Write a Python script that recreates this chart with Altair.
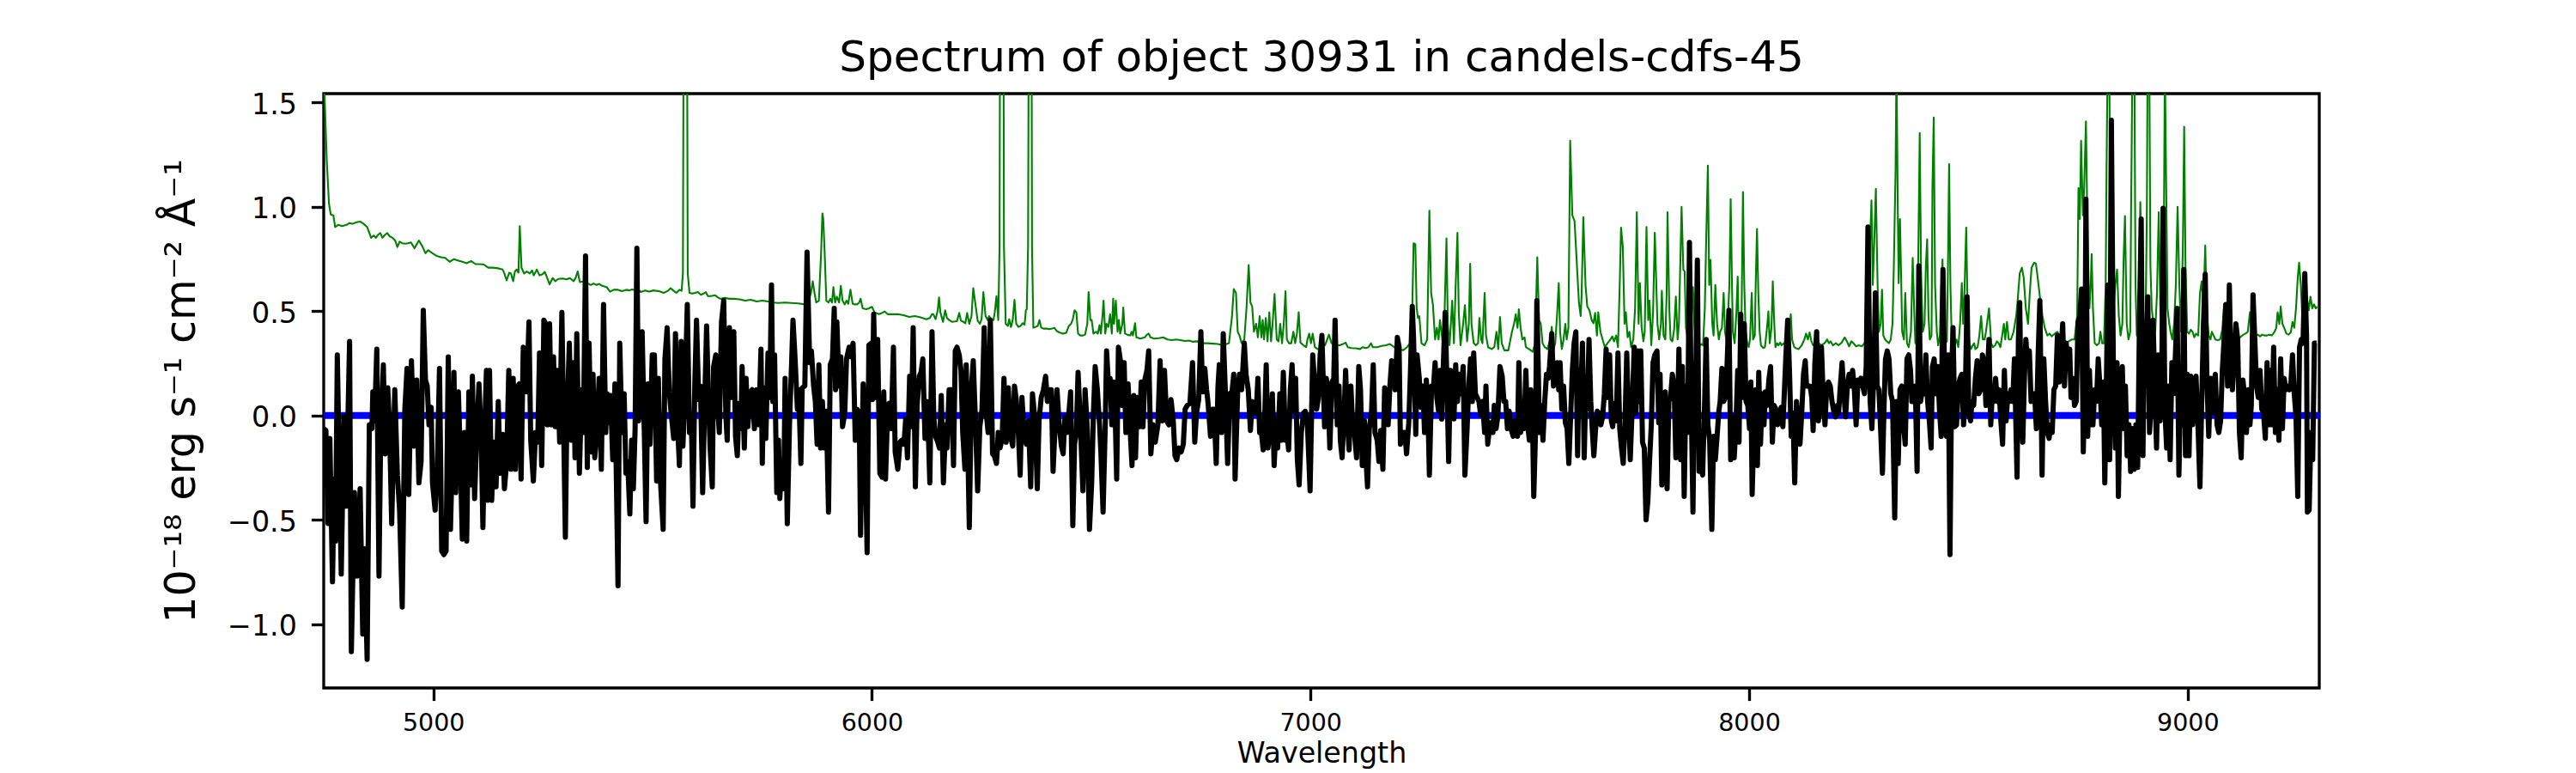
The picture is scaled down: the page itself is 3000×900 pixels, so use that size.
import altair as alt
import pandas as pd

bw1 = [4750, 4755, 4760, 4764, 4770, 4774, 4777, 4781, 4786, 4790,
       4796, 4801, 4809, 4813, 4820, 4826, 4833, 4839, 4843, 4849,
       4854, 4860, 4862, 4866, 4871, 4876, 4880, 4886, 4890, 4896,
       4900, 4905, 4912, 4918, 4923, 4929, 4935, 4940, 4944, 4950,
       4956, 4962, 4967, 4972, 4977, 4982, 4986, 4990, 4995, 4998,
       5004, 5009, 5014, 5019, 5024, 5029, 5034, 5039, 5044, 5047,
       5051, 5057, 5062, 5066, 5071, 5076, 5081, 5085, 5089, 5094,
       5099, 5104, 5109, 5113, 5117, 5121, 5124, 5128, 5133, 5138,
       5143, 5148, 5152, 5158, 5162, 5167, 5172, 5177, 5182, 5187,
       5192, 5196, 5200, 5205, 5209, 5213, 5218, 5222, 5228, 5233,
       5238, 5242, 5247, 5252, 5256, 5260, 5265, 5269, 5274, 5278,
       5283, 5288, 5293, 5301, 5304, 5310, 5315, 5319]
bf1 = [-0.063, -0.072, -0.518, -0.110, -0.797, -0.305, -0.602, 0.290, -0.305, -0.760,
       -0.007, -0.435, 0.355, -1.132, -0.370, -0.770, -0.351, -1.048, -0.639, -1.169,
       -0.045, -0.063, 0.113, -0.026, 0.318, -0.770, -0.063, 0.243, -0.184, 0.132,
       -0.045, -0.519, 0.123, -0.286, -0.454, -0.918, 0.030, 0.225, -0.379, 0.262,
       -0.147, 0.169, -0.323, -0.221, 0.504, 0.169, 0.141, -0.045, 0.039, -0.323,
       -0.454, -0.249, 0.225, -0.649, -0.667, -0.649, 0.281, -0.546, -0.128, 0.206,
       -0.370, 0.113, -0.230, -0.593, -0.082, -0.602, 0.113, -0.333, 0.188, -0.398,
       -0.082, 0.151, -0.100, -0.537, -0.063, 0.216, -0.407, 0.216, -0.407, -0.128,
       -0.342, 0.067, -0.277, -0.091, -0.351, -0.230, 0.216, -0.258, 0.178, -0.258,
       0.141, 0.151, -0.305, 0.327, 0.271, 0.113, 0.448, -0.119, -0.314, -0.082,
       -0.128, 0.299, -0.240, 0.457, 0.439, -0.045, 0.439, -0.045, 0.281, -0.054,
       0.216, -0.128, 0.494, -0.584, -0.072, 0.346, -0.119, 0.253]

bw2 = [5320, 5323, 5327, 5333, 5338, 5342, 5347, 5351, 5355, 5360,
       5364, 5368, 5373, 5378, 5383, 5388, 5393, 5396, 5401, 5404,
       5409, 5414, 5421, 5425, 5430, 5435, 5439, 5443, 5448, 5452,
       5456, 5460, 5464, 5468, 5472, 5476, 5481, 5485, 5489, 5494,
       5499, 5504, 5509, 5513, 5518, 5524, 5528, 5533, 5538, 5543,
       5548, 5552, 5557, 5561, 5565, 5569, 5574, 5579, 5584, 5588,
       5592, 5596, 5600, 5605, 5609, 5614, 5618, 5623, 5627, 5631,
       5636, 5639, 5644, 5648, 5652, 5657, 5662, 5667, 5670, 5675,
       5680, 5685, 5689, 5693, 5697, 5701, 5704, 5709, 5713, 5717,
       5723, 5727, 5732, 5737, 5742, 5747, 5750, 5753, 5758, 5763,
       5767, 5771, 5774, 5778, 5783, 5787, 5790, 5794, 5799, 5802,
       5807, 5812, 5817, 5820, 5825, 5830, 5833, 5838, 5841, 5847,
       5852, 5858, 5862, 5867, 5871, 5875, 5879, 5883, 5887]
bf2 = [0.243, -0.203, 0.392, -0.277, 0.123, -0.082, 0.764, -0.249, 0.346, -0.175,
       0.197, -0.203, -0.063, 0.178, -0.258, 0.532, -0.082, 0.104, -0.035, 0.095,
       -0.212, 0.151, -0.816, 0.346, -0.082, 0.104, -0.277, -0.221, -0.472, -0.119,
       -0.351, -0.063, 0.801, -0.026, 0.160, 0.401, -0.082, -0.509, 0.151, -0.138,
       0.290, 0.290, -0.314, 0.178, -0.323, -0.546, 0.271, 0.420, 0.113, -0.007,
       -0.110, 0.392, -0.054, -0.240, 0.355, -0.147, 0.123, 0.532, -0.082, 0.011,
       -0.435, 0.141, 0.457, 0.076, 0.141, -0.370, 0.002, 0.429, 0.104, -0.156,
       -0.342, 0.234, 0.290, 0.048, -0.082, 0.448, 0.550, -0.007, -0.119, 0.420,
       0.086, 0.401, -0.100, -0.193, 0.058, -0.063, 0.234, -0.156, 0.178, -0.054,
       0.113, 0.123, -0.063, 0.123, -0.045, 0.318, -0.230, 0.132, -0.110, 0.299,
       0.086, 0.625, 0.067, 0.290, -0.370, -0.119, -0.398, -0.230, -0.351, 0.178,
       -0.519, -0.045, 0.262, 0.457, 0.262, 0.030, 0.123, -0.230, 0.132, 0.141,
       0.783, 0.253, 0.309, 0.141, 0.067, -0.138, 0.243, -0.156, 0.067]

bw3 = [5889, 5892, 5896, 5901, 5905, 5910, 5914, 5917, 5920, 5925,
       5929, 5933, 5938, 5942, 5948, 5952, 5957, 5962, 5966, 5971,
       5974, 5980, 5984, 5989, 5993, 5998, 6001, 6004, 6008, 6013,
       6018, 6023, 6027, 6031, 6036, 6039, 6044, 6049, 6053, 6059,
       6064, 6068, 6073, 6077, 6081, 6086, 6090, 6094, 6099, 6103,
       6108, 6112, 6116, 6121, 6125, 6128, 6132, 6137, 6141, 6145,
       6150, 6154, 6158, 6163, 6168, 6171, 6176, 6181, 6186, 6190,
       6194, 6199, 6203, 6207, 6212, 6215, 6222, 6227, 6231, 6236,
       6241, 6246, 6251, 6256, 6261, 6265, 6270, 6275, 6279, 6284,
       6288, 6292, 6297, 6301, 6306, 6311, 6316, 6321, 6325, 6329,
       6334, 6338, 6342, 6347, 6352, 6357, 6362, 6366, 6372, 6377,
       6381, 6386, 6391, 6396, 6400, 6404, 6409, 6413, 6417, 6422,
       6427, 6432, 6436, 6440, 6445, 6449, 6453, 6458]
bf3 = [-0.026, -0.156, 0.020, -0.463, 0.243, 0.271, 0.513, 0.123, 0.448, 0.141,
       0.281, -0.054, 0.011, 0.271, 0.327, 0.281, 0.346, -0.119, 0.030, 0.011,
       -0.574, 0.151, -0.082, -0.658, 0.336, 0.346, 0.076, 0.485, 0.086, 0.364,
       -0.277, -0.296, 0.113, -0.305, 0.039, 0.058, -0.063, 0.327, -0.175, -0.258,
       -0.128, -0.119, -0.138, -0.017, -0.203, 0.188, -0.054, 0.420, -0.342, 0.048,
       0.188, 0.206, 0.271, -0.110, 0.067, -0.045, -0.323, 0.401, -0.007, -0.100,
       -0.128, -0.156, 0.095, -0.323, -0.045, -0.156, 0.123, 0.123, -0.240, 0.309,
       0.327, 0.290, 0.216, -0.082, -0.258, 0.243, -0.537, 0.141, 0.262, -0.026,
       -0.361, -0.054, 0.030, 0.420, 0.002, -0.082, 0.457, -0.184, -0.193, -0.230,
       -0.082, -0.156, -0.110, 0.178, -0.128, 0.132, -0.100, -0.147, 0.141, 0.076,
       -0.091, -0.286, 0.086, -0.082, -0.138, -0.026, -0.342, 0.104, -0.026, -0.351,
       -0.026, 0.086, 0.123, 0.188, 0.067, 0.123, 0.123, -0.268, -0.082, 0.123,
       -0.045, -0.147, -0.184, -0.007, -0.082, 0.011, 0.113, -0.528]

bw4 = [6462, 6466, 6470, 6475, 6481, 6486, 6491, 6496, 6501,
       6505, 6509, 6514, 6519, 6522, 6527, 6532, 6535, 6539, 6543,
       6547, 6551, 6555, 6558, 6562, 6566, 6571, 6575, 6579, 6584,
       6589, 6593, 6597, 6601, 6605, 6610, 6614, 6618, 6622, 6627,
       6631, 6636, 6641, 6646, 6652, 6657, 6662, 6667, 6672, 6677,
       6682, 6687, 6691, 6695, 6700, 6705, 6710, 6714, 6719, 6725,
       6731, 6736, 6740, 6745, 6750, 6754, 6759, 6763, 6766, 6772,
       6776, 6780, 6785, 6789, 6792, 6797, 6801, 6806, 6811, 6816,
       6821, 6825, 6828, 6834, 6838, 6843, 6849, 6853, 6858, 6863,
       6867, 6871, 6876, 6880, 6884, 6888, 6892, 6896, 6899, 6903,
       6909, 6913, 6917, 6922, 6925, 6930, 6933, 6938, 6943, 6946,
       6950, 6954, 6958, 6962, 6966, 6970, 6974, 6979, 6984, 6988,
       6993, 6999, 7005, 7010, 7014, 7018, 7022, 7026]
bf4 = [-0.138, -0.082, 0.206, -0.026, -0.361, 0.123, -0.063, -0.546, -0.323,
       0.011, 0.234, 0.123, -0.045, -0.175, -0.463, -0.045, 0.309, 0.160, 0.178,
       -0.045, 0.160, -0.026, -0.305, 0.327, 0.271, 0.048, 0.253, -0.082, 0.151,
       -0.082, -0.240, 0.095, -0.203, 0.086, -0.054, 0.160, -0.054, 0.169, 0.216,
       0.309, -0.184, -0.045, -0.128, -0.045, 0.262, -0.026, 0.216, -0.026, -0.045,
       0.076, -0.026, -0.193, -0.212, -0.156, -0.175, -0.138, 0.030, 0.048, 0.058,
       0.253, -0.128, 0.011, 0.076, 0.401, 0.113, 0.225, 0.123, 0.067, -0.100,
       0.030, 0.030, -0.230, 0.141, 0.243, -0.082, 0.392, 0.104, -0.230, 0.104,
       0.113, 0.197, -0.305, 0.123, 0.197, 0.123, 0.346, 0.197, 0.123, -0.072,
       0.067, 0.011, 0.011, 0.178, -0.082, -0.082, -0.165, 0.030, 0.243, -0.156,
       -0.045, 0.104, -0.240, -0.026, -0.156, 0.104, -0.119, 0.206, -0.119, -0.072,
       -0.165, 0.123, 0.243, 0.020, 0.178, -0.212, -0.333, -0.082, 0.011, 0.020,
       -0.045, -0.361, 0.290, 0.141, 0.030, 0.086, 0.290, 0.383]

bw5 = [7032, 7036, 7040, 7044, 7049, 7053, 7056, 7061, 7065,
       7068, 7072, 7077, 7080, 7084, 7088, 7092, 7096, 7100, 7105,
       7110, 7114, 7118, 7123, 7126, 7130, 7134, 7139, 7143, 7147,
       7152, 7156, 7160, 7165, 7169, 7173, 7177, 7181, 7185, 7189,
       7193, 7198, 7202, 7205, 7211, 7215, 7219, 7224, 7228, 7232,
       7235, 7240, 7243, 7248, 7252, 7256, 7260, 7264, 7268, 7271,
       7276, 7280, 7284, 7288, 7292, 7295, 7299, 7303, 7307, 7311,
       7315, 7319, 7323, 7327, 7331, 7335, 7339, 7343, 7348, 7352,
       7357, 7361, 7365, 7369, 7372, 7376, 7380, 7384, 7388, 7392,
       7397, 7400, 7404, 7408, 7412, 7416, 7419, 7423, 7427, 7432,
       7437, 7441, 7445, 7449, 7453, 7457, 7462, 7465, 7468, 7472,
       7475, 7479, 7483, 7487, 7491, 7495, 7499, 7502, 7506, 7509,
       7513, 7516, 7519, 7522, 7526, 7530, 7534, 7538, 7542, 7545,
       7550, 7554, 7558, 7562, 7566, 7569, 7573, 7577, 7581, 7585,
       7589, 7593, 7597, 7601, 7605, 7609, 7612, 7616, 7620, 7624,
       7627, 7631, 7635, 7639, 7642, 7646, 7650, 7654, 7658, 7662,
       7666, 7670, 7674, 7678, 7682, 7686, 7689, 7693, 7697, 7701,
       7705, 7709, 7713, 7717, 7721, 7725, 7729, 7734, 7738, 7742,
       7746, 7749, 7753, 7757, 7761, 7765, 7769, 7773, 7777, 7781,
       7785]
bf5 = [-0.054, 0.178, 0.104, -0.156, 0.160, 0.178, 0.457, -0.045, 0.141,
       -0.119, -0.203, 0.030, 0.216, -0.026, -0.165, 0.141, -0.045, -0.082, -0.203,
       0.234, 0.123, -0.240, -0.026, -0.193, -0.342, -0.063, 0.011, 0.243, -0.082,
       -0.119, -0.221, -0.072, -0.258, 0.132, 0.067, -0.045, 0.141, 0.262, 0.253,
       0.123, 0.374, 0.327, -0.138, -0.082, -0.082, -0.184, -0.035, 0.216, 0.522,
       0.364, -0.091, 0.290, 0.178, 0.039, 0.141, -0.082, 0.169, 0.011, -0.286,
       0.141, 0.123, 0.253, 0.086, 0.020, 0.216, -0.017, 0.253, 0.494, 0.160,
       -0.221, 0.216, 0.067, -0.017, 0.243, 0.067, 0.197, 0.104, 0.234, -0.286,
       -0.063, 0.151, 0.271, 0.067, 0.299, 0.104, 0.086, 0.067, 0.002, 0.067,
       -0.082, 0.141, -0.138, -0.063, -0.035, -0.082, 0.048, -0.063, -0.007, 0.234,
       0.188, 0.067, 0.067, -0.063, 0.020, -0.063, -0.100, -0.026, -0.045, -0.100,
       0.253, -0.082, -0.026, -0.063, 0.216, -0.045, -0.119, 0.123, -0.007, -0.388,
       -0.082, 0.550, 0.253, -0.082, 0.048, -0.119, 0.067, 0.197, 0.178, 0.234,
       0.392, 0.141, 0.188, 0.253, 0.123, 0.253, 0.030, 0.141, -0.035, -0.063,
       -0.230, -0.007, 0.216, 0.346, 0.401, -0.193, 0.216, 0.086, 0.346, -0.203,
       0.067, 0.030, 0.364, 0.067, -0.054, -0.193, -0.063, 0.020, 0.011, -0.045,
       -0.007, 0.104, 0.318, 0.086, 0.290, -0.026, -0.054, 0.058, -0.026, 0.299,
       -0.063, -0.156, -0.230, -0.045, 0.299, 0.011, -0.212, 0.067, 0.327, 0.011,
       0.309, 0.067, 0.309, -0.128, -0.156, -0.500, -0.416, -0.221, -0.045, 0.253,
       0.290]

bw6 = [7790, 7794, 7797, 7801, 7805, 7809, 7813, 7817, 7821,
       7825, 7829, 7833, 7837, 7840, 7844, 7848, 7852, 7856, 7860,
       7864, 7868, 7872, 7876, 7878, 7882, 7886, 7890, 7894, 7898,
       7902, 7906, 7910, 7915, 7919, 7923, 7927, 7931, 7934, 7938,
       7942, 7946, 7950, 7954, 7958, 7962, 7966, 7970, 7974, 7977,
       7981, 7985, 7989, 7993, 7997, 8001, 8004, 8007, 8011, 8015,
       8019, 8022, 8026, 8030, 8034, 8037, 8041, 8045, 8049, 8053,
       8057, 8061, 8065, 8069, 8073, 8077, 8081, 8084, 8088, 8092,
       8096, 8100, 8104, 8108, 8112, 8116, 8120, 8124, 8128, 8131,
       8135, 8139, 8143, 8146, 8150, 8154, 8158, 8161, 8165, 8169,
       8173, 8177, 8181, 8185, 8189, 8193, 8197, 8201, 8204, 8208,
       8212, 8216, 8220, 8224, 8228, 8232, 8236, 8240, 8244, 8248,
       8251, 8255, 8259, 8263, 8267, 8271, 8276, 8280, 8284, 8288,
       8292, 8296, 8300, 8304, 8308, 8311, 8315, 8319, 8323, 8327,
       8332, 8336, 8340, 8344, 8348, 8352, 8356, 8360, 8364, 8368,
       8371, 8375, 8379, 8383, 8387, 8391, 8395, 8399, 8403, 8407,
       8411, 8415, 8418, 8422, 8426, 8430, 8434, 8438, 8442, 8446,
       8450, 8454, 8458, 8462, 8465, 8469, 8473, 8477, 8481, 8485,
       8489, 8493, 8497, 8501, 8505, 8508, 8512, 8516, 8520, 8524,
       8528, 8532, 8536, 8540]
bf6 = [0.309, -0.035, 0.197, -0.333, 0.067, 0.113, -0.351, 0.067, 0.086,
       0.197, 0.141, -0.203, 0.011, 0.318, -0.212, 0.234, -0.388, 0.141, -0.082,
       0.829, 0.067, -0.463, 0.253, 0.104, 0.745, -0.268, -0.249, -0.286, 0.011,
       0.364, -0.045, -0.119, -0.546, -0.100, -0.212, -0.100, 0.020, 0.067, 0.225,
       0.067, 0.086, 0.253, 0.504, -0.212, -0.007, -0.203, -0.045, 0.216, -0.128,
       0.485, 0.086, 0.439, 0.067, 0.048, -0.063, 0.160, -0.379, -0.045, 0.123,
       -0.240, 0.206, -0.138, 0.104, -0.045, 0.113, 0.048, 0.169, 0.234, -0.128,
       0.048, 0.030, -0.045, -0.026, 0.039, -0.054, 0.141, 0.290, 0.457, 0.216,
       -0.100, 0.011, -0.323, 0.067, -0.045, -0.138, 0.011, 0.197, 0.262, 0.141,
       0.141, 0.141, 0.086, -0.072, 0.253, 0.401, -0.026, 0.048, 0.327, 0.086,
       -0.045, 0.141, 0.160, 0.141, 0.067, 0.020, -0.007, 0.048, 0.011, 0.141,
       0.253, 0.104, -0.007, 0.141, 0.197, 0.141, 0.216, 0.123, -0.045, 0.169,
       0.141, 0.178, 0.141, 0.104, 0.234, 0.903, 0.067, -0.063, 0.178, 0.587,
       0.141, 0.123, -0.072, -0.277, 0.067, 0.271, 0.309, 0.271, 0.104, 0.067,
       -0.491, 0.067, -0.230, 0.123, 0.141, -0.045, -0.138, 0.271, 0.290, 0.216,
       0.067, 0.067, 0.141, -0.268, 0.717, 0.067, 0.123, 0.104, 0.290, 0.067,
       -0.026, -0.156, 0.234, 0.271, 0.104, 0.234, 0.030, -0.100, 0.699, 0.141,
       -0.100, 0.290, -0.667, 0.216, 0.420, -0.054, -0.045, 0.141, 0.178, 0.197,
       -0.045, 0.104, 0.569, 0.011, -0.026, 0.067, 0.048, 0.178, 0.262, 0.104,
       0.123, 0.290, 0.253, 0.048]

bw7 = [8547, 8551, 8554, 8558, 8562, 8566, 8570, 8574, 8578, 8582,
       8586, 8590, 8594, 8597, 8601, 8605, 8611, 8614, 8617, 8620,
       8624, 8628, 8631, 8635, 8639, 8643, 8647, 8651, 8655, 8659,
       8663, 8668, 8672, 8676, 8680, 8684, 8688, 8691, 8695, 8699,
       8703, 8707, 8711, 8715, 8719, 8723, 8727, 8731, 8734, 8738,
       8742, 8746, 8750, 8754, 8758, 8762, 8766, 8768, 8772, 8776,
       8780, 8784, 8788, 8792, 8796, 8800, 8804, 8808, 8811, 8814,
       8818, 8822, 8826, 8831, 8835, 8839, 8842, 8847, 8851, 8854,
       8858, 8862, 8866, 8870, 8874, 8878, 8882, 8886, 8890, 8894,
       8898, 8901, 8905, 8909, 8913, 8917, 8921, 8925, 8929, 8933,
       8937, 8941, 8944, 8948, 8952, 8956, 8960, 8964, 8968, 8972,
       8976, 8980, 8984, 8988, 8991, 8995, 8999, 9003, 9007, 9011,
       9015, 9019, 9024, 9028, 9032, 9036, 9040, 9044, 9048, 9052,
       9055, 9059, 9063, 9067, 9071, 9075, 9079, 9083, 9087, 9091,
       9095, 9098, 9102, 9106, 9110, 9114, 9118, 9122, 9126, 9130,
       9134, 9138, 9142, 9145, 9149, 9153, 9157, 9161, 9165, 9169,
       9173, 9177, 9181, 9185, 9188, 9192, 9196, 9200, 9204, 9208,
       9212, 9216, 9220, 9224, 9228, 9232, 9235, 9239, 9243, 9247,
       9251, 9255, 9259, 9263, 9267, 9271, 9273, 9277, 9281, 9285,
       9289, 9294]
bf7 = [0.364, -0.045, 0.086, 0.067, 0.178, 0.067, 0.123, -0.026, -0.138, 0.216,
       -0.026, 0.104, 0.067, 0.123, 0.067, 0.271, -0.296, 0.364, 0.541, 0.086,
       -0.128, 0.197, 0.364, 0.253, 0.309, 0.067, 0.086, 0.104, -0.063, 0.290,
       0.550, -0.286, 0.271, 0.067, -0.082, -0.110, -0.045, -0.082, 0.123, 0.141,
       0.383, 0.160, 0.290, 0.439, 0.141, 0.346, 0.253, 0.318, 0.086, 0.178,
       0.048, 0.067, 0.448, 0.476, 0.606, -0.175, 0.290, 1.037, -0.100, 0.216,
       -0.045, -0.045, 0.123, 0.067, 0.271, 0.141, -0.045, 0.160, -0.323, 0.067,
       0.625, -0.212, 1.414, 0.104, -0.156, 0.253, -0.388, 0.178, 0.234, -0.063,
       0.141, -0.193, -0.045, -0.268, -0.063, -0.258, -0.045, -0.249, 0.439, 0.941,
       -0.193, 0.327, 0.197, 0.569, -0.082, 0.067, 0.457, 0.141, -0.156, 0.290,
       -0.026, 0.197, 0.993, 0.030, -0.156, 0.141, -0.212, 0.253, 0.104, 0.290,
       0.513, -0.286, 0.141, -0.045, 0.699, -0.193, 0.197, -0.193, 0.188, -0.045,
       0.104, 0.188, -0.082, -0.342, 0.067, 0.439, 0.677, 0.160, -0.100, 0.178,
       0.011, 0.141, 0.197, -0.045, -0.082, -0.026, 0.216, 0.364, 0.532, 0.141,
       0.625, 0.290, 0.123, 0.271, 0.439, 0.364, -0.082, -0.203, 0.169, 0.086,
       -0.082, 0.123, -0.045, 0.048, 0.578, 0.364, 0.141, 0.086, 0.216, 0.030,
       0.011, -0.110, 0.253, -0.045, 0.216, -0.045, 0.327, -0.082, 0.123, -0.119,
       0.271, -0.063, 0.178, 0.123, 0.141, 0.123, 0.141, 0.290, 0.104, -0.007,
       -0.388, 0.327, 0.364, 0.346, 0.680, 0.383, -0.463, -0.454, -0.082, -0.212,
       0.346, 0.346]

# ---------------- sky / noise spectrum (green) ----------------
gw1 = [4750, 4757, 4762, 4766, 4772, 4776, 4783, 4792, 4802, 4809,
       4815, 4825, 4833, 4841, 4849, 4854, 4858, 4864, 4869, 4874,
       4879, 4884, 4890, 4895, 4900, 4907, 4913, 4918, 4923, 4929,
       4936, 4942, 4949, 4957, 4962, 4967, 4975, 4982, 4988, 4998,
       5008, 5017, 5027, 5037, 5047, 5057, 5066, 5076, 5086, 5096,
       5106, 5115, 5125, 5135, 5145, 5158, 5162, 5167, 5173, 5177,
       5182, 5186, 5190, 5194, 5197, 5201, 5207, 5213, 5220, 5225,
       5229, 5236, 5242, 5249, 5254, 5259, 5265, 5272, 5278, 5285,
       5295, 5304, 5311]
gf1 = [1.65, 1.219, 1.015, 0.963, 0.959, 0.903, 0.913, 0.907, 0.913, 0.922,
       0.918, 0.926, 0.929, 0.918, 0.903, 0.875, 0.851, 0.862, 0.851, 0.866,
       0.874, 0.851, 0.866, 0.874, 0.859, 0.851, 0.838, 0.807, 0.833, 0.825,
       0.823, 0.825, 0.829, 0.801, 0.820, 0.838, 0.810, 0.777, 0.792, 0.777,
       0.764, 0.758, 0.755, 0.736, 0.749, 0.742, 0.736, 0.729, 0.740, 0.725,
       0.725, 0.723, 0.708, 0.708, 0.706, 0.699, 0.680, 0.647, 0.684, 0.680,
       0.643, 0.690, 0.699, 0.684, 0.907, 0.708, 0.680, 0.690, 0.680, 0.695,
       0.671, 0.699, 0.671, 0.677, 0.688, 0.662, 0.628, 0.658, 0.643, 0.654,
       0.656, 0.652, 0.658]

gw2 = [5320, 5325, 5329, 5334, 5342, 5351, 5359, 5365, 5372, 5378,
       5385, 5395, 5403, 5411, 5421, 5430, 5440, 5447, 5453, 5460,
       5466, 5473, 5483, 5492, 5502, 5515, 5525, 5535, 5541, 5548,
       5554, 5561, 5566, 5569, 5572, 5577, 5580, 5584, 5590, 5597,
       5603, 5610, 5616, 5621, 5626, 5633, 5642, 5649, 5655, 5665,
       5675, 5685, 5698, 5711, 5724, 5737, 5750, 5763, 5776, 5786,
       5802, 5815, 5832, 5847, 5854, 5861, 5865, 5869, 5873, 5879,
       5884, 5887]
gf2 = [0.643, 0.662, 0.690, 0.639, 0.643, 0.634, 0.625, 0.632, 0.625, 0.630,
       0.621, 0.615, 0.593, 0.602, 0.602, 0.595, 0.602, 0.599, 0.604, 0.600,
       0.606, 0.591, 0.599, 0.593, 0.599, 0.595, 0.587, 0.597, 0.610, 0.597,
       0.587, 0.602, 0.597, 0.680, 3.0, 3.0, 0.680, 0.587, 0.584, 0.587,
       0.591, 0.578, 0.584, 0.591, 0.572, 0.572, 0.576, 0.565, 0.559, 0.563,
       0.559, 0.559, 0.556, 0.550, 0.554, 0.546, 0.550, 0.546, 0.541, 0.539,
       0.541, 0.539, 0.537, 0.532, 0.541, 0.587, 0.643, 0.587, 0.541, 0.550,
       0.773, 0.968]

gw3 = [5889, 5892, 5896, 5901, 5905, 5909, 5912, 5916, 5920, 5925,
       5929, 5933, 5938, 5942, 5946, 5951, 5956, 5961, 5966, 5971,
       5974, 5979, 5987, 5993, 6000, 6006, 6016, 6023, 6029, 6036,
       6046, 6059, 6072, 6085, 6098, 6111, 6124, 6132, 6137, 6140,
       6145, 6150, 6153, 6156, 6162, 6167, 6171, 6176, 6183, 6189,
       6194, 6199, 6203, 6209, 6213, 6217, 6222, 6227, 6231, 6236,
       6241, 6246, 6250, 6254, 6259, 6264, 6267, 6273, 6277, 6280,
       6284, 6288, 6291, 6293, 6299, 6301, 6305, 6310, 6313, 6317,
       6321, 6325, 6329, 6334, 6339, 6344, 6348, 6351, 6353, 6356,
       6359, 6363, 6365, 6368, 6373, 6378, 6382, 6386, 6391, 6398,
       6404, 6411, 6416, 6421, 6427, 6436, 6443, 6449, 6454, 6458]
gf3 = [0.941, 0.792, 0.550, 0.541, 0.559, 0.541, 0.615, 0.541, 0.569, 0.541,
       0.621, 0.550, 0.532, 0.550, 0.535, 0.602, 0.535, 0.532, 0.532, 0.541,
       0.559, 0.513, 0.509, 0.513, 0.520, 0.494, 0.485, 0.491, 0.498, 0.485,
       0.485, 0.485, 0.480, 0.472, 0.476, 0.470, 0.461, 0.467, 0.485, 0.485,
       0.461, 0.504, 0.565, 0.494, 0.448, 0.504, 0.467, 0.457, 0.448, 0.450,
       0.452, 0.491, 0.454, 0.448, 0.442, 0.491, 0.439, 0.476, 0.610, 0.532,
       0.454, 0.439, 0.461, 0.591, 0.476, 0.457, 0.476, 0.457, 0.457, 0.494,
       0.572, 0.457, 0.810, 3.0, 3.0, 0.810, 0.439, 0.429, 0.461, 0.424,
       0.457, 0.554, 0.439, 0.424, 0.429, 0.442, 0.435, 0.504, 0.509, 0.810,
       3.0, 3.0, 0.810, 0.420, 0.424, 0.429, 0.457, 0.420, 0.416, 0.416,
       0.413, 0.416, 0.420, 0.405, 0.398, 0.392, 0.396, 0.429, 0.439, 0.461]

gw4 = [6462, 6466, 6470, 6475, 6481, 6486, 6491, 6494, 6498,
       6501, 6505, 6511, 6515, 6519, 6522, 6526, 6528, 6532, 6535,
       6539, 6543, 6547, 6550, 6552, 6556, 6560, 6563, 6566, 6571,
       6573, 6577, 6582, 6589, 6592, 6595, 6600, 6603, 6612, 6622,
       6627, 6631, 6635, 6644, 6654, 6664, 6674, 6684, 6693, 6703,
       6713, 6723, 6732, 6742, 6752, 6765, 6778, 6788, 6798, 6804,
       6814, 6821, 6825, 6830, 6834, 6838, 6843, 6849, 6854, 6859,
       6863, 6867, 6871, 6876, 6880, 6884, 6888, 6891, 6894, 6898,
       6902, 6906, 6910, 6913, 6918, 6923, 6927, 6931, 6935, 6939,
       6943, 6946, 6951, 6956, 6961, 6965, 6969, 6973, 6977, 6984,
       6990, 6993, 6997, 7001, 7005, 7010, 7016, 7023]
gf4 = [0.504, 0.494, 0.392, 0.383, 0.383, 0.387, 0.439, 0.591, 0.457,
       0.457, 0.392, 0.401, 0.392, 0.433, 0.392, 0.485, 0.550, 0.392, 0.439,
       0.424, 0.485, 0.392, 0.559, 0.439, 0.550, 0.401, 0.457, 0.392, 0.439,
       0.517, 0.392, 0.387, 0.383, 0.401, 0.383, 0.442, 0.374, 0.368, 0.374,
       0.387, 0.392, 0.374, 0.368, 0.370, 0.374, 0.364, 0.361, 0.364, 0.361,
       0.357, 0.359, 0.353, 0.355, 0.346, 0.346, 0.344, 0.342, 0.338, 0.338,
       0.346, 0.476, 0.606, 0.587, 0.401, 0.383, 0.346, 0.364, 0.513, 0.721,
       0.541, 0.522, 0.401, 0.439, 0.374, 0.476, 0.374, 0.457, 0.364, 0.467,
       0.355, 0.494, 0.355, 0.424, 0.582, 0.364, 0.355, 0.439, 0.346, 0.439,
       0.595, 0.364, 0.346, 0.346, 0.401, 0.346, 0.392, 0.494, 0.349, 0.336,
       0.327, 0.364, 0.392, 0.346, 0.392, 0.327, 0.318, 0.318]

gw5 = [7028, 7033, 7038, 7042, 7048, 7057, 7067, 7074, 7080, 7085,
       7093, 7103, 7113, 7119, 7126, 7132, 7138, 7142, 7152, 7162,
       7172, 7181, 7191, 7201, 7211, 7220, 7227, 7232, 7235, 7239,
       7242, 7245, 7248, 7253, 7260, 7266, 7271, 7275, 7279, 7284,
       7288, 7292, 7295, 7301, 7305, 7310, 7313, 7317, 7320, 7323,
       7327, 7331, 7335, 7338, 7342, 7348, 7352, 7357, 7361, 7364,
       7367, 7372, 7377, 7382, 7385, 7389, 7392, 7397, 7400, 7405,
       7413, 7419, 7424, 7428, 7432, 7436, 7442, 7451, 7459, 7464,
       7468, 7472, 7475, 7479, 7483, 7488, 7491, 7498, 7507, 7512,
       7517, 7521, 7525, 7529, 7534, 7540, 7547, 7550, 7554, 7558,
       7562, 7566, 7569, 7573, 7577, 7581, 7584, 7588, 7592, 7597,
       7602, 7607, 7612, 7616, 7618, 7622, 7627, 7631, 7636, 7641,
       7645, 7649, 7653, 7656, 7661, 7666, 7671, 7677, 7684, 7688,
       7692, 7697, 7701, 7705, 7708, 7712, 7716, 7719, 7723, 7727,
       7731, 7736, 7740, 7744, 7748, 7751, 7755, 7759, 7762, 7766,
       7770, 7773, 7777, 7781, 7785]
gf5 = [0.346, 0.336, 0.364, 0.387, 0.346, 0.336, 0.336, 0.342, 0.349, 0.327,
       0.323, 0.322, 0.318, 0.327, 0.323, 0.327, 0.346, 0.327, 0.327, 0.333,
       0.336, 0.342, 0.327, 0.318, 0.312, 0.327, 0.346, 0.513, 0.825, 0.820,
       0.513, 0.467, 0.476, 0.346, 0.336, 0.364, 0.981, 0.587, 0.532, 0.364,
       0.420, 0.364, 0.457, 0.355, 0.439, 0.848, 0.439, 0.336, 0.439, 0.550,
       0.346, 0.625, 0.875, 0.494, 0.336, 0.439, 0.528, 0.355, 0.439, 0.727,
       0.439, 0.346, 0.336, 0.346, 0.467, 0.364, 0.346, 0.587, 0.383, 0.327,
       0.318, 0.327, 0.401, 0.318, 0.472, 0.346, 0.312, 0.312, 0.398, 0.439,
       0.485, 0.420, 0.509, 0.420, 0.364, 0.374, 0.327, 0.318, 0.305, 0.346,
       0.758, 0.457, 0.439, 0.346, 0.327, 0.318, 0.364, 0.424, 0.318, 0.346,
       0.476, 0.634, 0.401, 0.318, 0.364, 0.439, 0.364, 0.420, 1.316, 0.959,
       0.931, 0.736, 0.541, 0.476, 0.569, 0.950, 0.625, 0.522, 0.504, 0.457,
       0.442, 0.491, 0.383, 0.494, 0.401, 0.364, 0.327, 0.346, 0.364, 0.379,
       0.355, 0.383, 0.327, 0.625, 0.900, 0.810, 0.439, 0.494, 0.374, 0.401,
       0.327, 0.364, 0.513, 0.974, 0.439, 0.634, 0.420, 0.355, 0.401, 0.903,
       0.457, 0.550, 0.336, 0.494, 0.875]

gw6 = [7791, 7795, 7799, 7801, 7805, 7809, 7812, 7814, 7818,
       7821, 7825, 7829, 7833, 7837, 7840, 7844, 7846, 7850, 7853,
       7856, 7859, 7864, 7868, 7872, 7875, 7878, 7882, 7885, 7888,
       7891, 7895, 7899, 7902, 7906, 7909, 7912, 7916, 7919, 7923,
       7927, 7931, 7934, 7938, 7942, 7945, 7948, 7951, 7955, 7958,
       7961, 7963, 7967, 7971, 7974, 7976, 7980, 7983, 7986, 7989,
       7992, 7996, 7999, 8002, 8006, 8009, 8013, 8015, 8018, 8021,
       8024, 8027, 8032, 8036, 8040, 8044, 8047, 8051, 8054, 8057,
       8060, 8064, 8067, 8071, 8074, 8079, 8083, 8087, 8091, 8095,
       8098, 8103, 8107, 8113, 8120, 8126, 8130, 8134, 8138, 8142,
       8146, 8152, 8159, 8165, 8172, 8178, 8182, 8186, 8191, 8198,
       8204, 8211, 8218, 8223, 8228, 8233, 8238, 8244, 8250, 8257,
       8263, 8268, 8272, 8275, 8279, 8282, 8285, 8289, 8293, 8296,
       8300, 8303, 8306, 8310, 8314, 8319, 8323, 8327, 8330, 8334,
       8336, 8339, 8341, 8344, 8347, 8349, 8353, 8356, 8360, 8364,
       8369, 8373, 8376, 8379, 8383, 8386, 8389, 8392, 8396, 8400,
       8403, 8406, 8409, 8412, 8416, 8418, 8421, 8424, 8428, 8431,
       8435, 8438, 8441, 8443, 8447, 8451, 8454, 8456, 8459, 8462,
       8465, 8469, 8473, 8477, 8481, 8485, 8488, 8491, 8495, 8498,
       8502, 8506, 8510, 8513, 8516, 8521, 8525, 8529, 8533, 8537,
       8540]
gf6 = [0.439, 0.364, 0.439, 0.597, 0.383, 0.364, 0.587, 0.974, 0.513,
       0.364, 0.355, 0.411, 0.569, 0.364, 0.439, 0.810, 1.000, 0.699, 0.690,
       0.420, 0.383, 0.587, 0.439, 0.615, 0.439, 0.364, 0.355, 0.346, 0.336,
       0.342, 0.336, 0.513, 0.829, 1.197, 0.625, 0.745, 0.439, 0.383, 0.625,
       0.439, 0.364, 0.401, 0.420, 0.587, 0.401, 0.364, 0.439, 0.625, 1.037,
       0.625, 0.401, 0.346, 0.494, 0.665, 0.439, 0.364, 0.513, 1.071, 0.625,
       0.401, 0.346, 0.327, 0.364, 0.587, 0.364, 0.383, 0.625, 0.894, 0.587,
       0.401, 0.336, 0.323, 0.327, 0.401, 0.498, 0.346, 0.420, 0.643, 0.457,
       0.327, 0.346, 0.336, 0.349, 0.336, 0.346, 0.336, 0.346, 0.383, 0.485,
       0.364, 0.327, 0.322, 0.318, 0.336, 0.364, 0.392, 0.364, 0.398, 0.355,
       0.336, 0.336, 0.346, 0.336, 0.346, 0.364, 0.346, 0.355, 0.336, 0.346,
       0.336, 0.349, 0.374, 0.355, 0.331, 0.355, 0.346, 0.331, 0.336, 0.331,
       0.346, 0.364, 0.513, 0.773, 1.030, 0.625, 0.810, 1.086, 0.625, 0.401,
       0.439, 0.602, 0.383, 0.364, 0.355, 0.346, 0.364, 0.439, 0.717, 1.182,
       1.70, 0.996, 0.634, 0.941, 0.625, 0.401, 0.364, 0.587, 0.346, 0.327,
       0.401, 0.755, 0.532, 0.346, 0.401, 0.810, 1.353, 0.699, 0.401, 0.439,
       0.717, 0.844, 0.476, 0.364, 0.383, 1.089, 1.428, 0.625, 0.401, 0.336,
       0.383, 0.625, 0.747, 0.513, 0.346, 0.355, 0.810, 1.204, 0.625, 0.364,
       0.346, 0.336, 0.364, 0.327, 0.439, 0.634, 0.439, 0.587, 0.900, 0.532,
       0.346, 0.318, 0.336, 0.346, 0.318, 0.327, 0.383, 0.476, 0.364, 0.364,
       0.401]

gw7 = [8547, 8552, 8556, 8561, 8565, 8569, 8573, 8577, 8581, 8584,
       8588, 8592, 8597, 8603, 8609, 8613, 8617, 8622, 8626, 8631,
       8636, 8640, 8644, 8650, 8654, 8659, 8664, 8669, 8674, 8680,
       8685, 8690, 8697, 8703, 8710, 8716, 8723, 8729, 8736, 8742,
       8748, 8751, 8754, 8757, 8761, 8764, 8768, 8772, 8776, 8779,
       8781, 8784, 8788, 8793, 8798, 8801, 8805, 8809, 8813, 8815,
       8818, 8821, 8823, 8827, 8831, 8835, 8839, 8843, 8847, 8851,
       8854, 8857, 8861, 8865, 8869, 8871, 8875, 8878, 8881, 8884,
       8888, 8892, 8896, 8900, 8904, 8907, 8909, 8912, 8915, 8918,
       8922, 8926, 8930, 8934, 8938, 8942, 8946, 8948, 8951, 8954,
       8958, 8961, 8965, 8969, 8973, 8977, 8981, 8985, 8989, 8992,
       8995, 8999, 9003, 9007, 9011, 9015, 9019, 9024, 9028, 9032,
       9036, 9040, 9044, 9048, 9052, 9055, 9059, 9063, 9068, 9074,
       9079, 9083, 9087, 9091, 9096, 9101, 9106, 9112, 9117, 9122,
       9127, 9132, 9137, 9142, 9145, 9150, 9155, 9160, 9165, 9170,
       9175, 9181, 9186, 9192, 9198, 9202, 9205, 9209, 9212, 9216,
       9220, 9225, 9230, 9235, 9239, 9243, 9247, 9251, 9254, 9258,
       9262, 9265, 9269, 9273, 9276, 9280, 9284, 9288, 9292, 9295]
gf7 = [0.513, 0.346, 0.327, 0.336, 0.355, 0.346, 0.327, 0.383, 0.439, 0.364,
       0.448, 0.364, 0.364, 0.401, 0.476, 0.569, 0.680, 0.708, 0.662, 0.513,
       0.439, 0.587, 0.708, 0.732, 0.727, 0.643, 0.550, 0.476, 0.420, 0.383,
       0.392, 0.379, 0.392, 0.401, 0.364, 0.355, 0.346, 0.355, 0.364, 0.364,
       0.476, 1.089, 0.941, 1.316, 0.959, 1.089, 1.409, 0.810, 0.513, 0.625,
       0.773, 0.513, 0.346, 0.336, 0.346, 0.401, 0.346, 0.346, 0.625, 1.182,
       1.8, 1.8, 1.089, 0.476, 0.513, 0.625, 0.699, 0.476, 0.383, 0.439,
       0.755, 0.955, 0.439, 0.364, 0.401, 0.996, 1.9, 1.9, 0.625, 0.383,
       0.476, 1.022, 0.625, 0.401, 0.439, 0.996, 1.9, 1.9, 0.717, 0.513,
       0.439, 0.401, 0.587, 0.974, 0.476, 0.587, 0.996, 1.7, 1.089, 0.513,
       0.439, 0.401, 0.364, 0.439, 0.625, 1.000, 0.625, 0.401, 0.810, 1.383,
       0.717, 0.401, 0.392, 0.411, 0.401, 0.374, 0.392, 0.383, 0.587, 0.643,
       0.513, 0.814, 0.476, 0.383, 0.364, 0.401, 0.383, 0.364, 0.361, 0.364,
       0.411, 0.532, 0.401, 0.383, 0.387, 0.383, 0.392, 0.383, 0.368, 0.379,
       0.387, 0.392, 0.401, 0.494, 0.420, 0.392, 0.383, 0.387, 0.379, 0.387,
       0.383, 0.383, 0.387, 0.383, 0.401, 0.420, 0.494, 0.439, 0.522, 0.439,
       0.420, 0.392, 0.387, 0.398, 0.448, 0.420, 0.513, 0.662, 0.732, 0.625,
       0.439, 0.383, 0.420, 0.550, 0.504, 0.569, 0.513, 0.532, 0.513, 0.522]

zero_level = [0.0]
x_ticks = [5000, 6000, 7000, 8000, 9000]
y_ticks = [-1.0, -0.5, 0.0, 0.5, 1.0, 1.5]

title_text = "Spectrum of object 30931 in candels-cdfs-45"
x_title = "Wavelength"
y_title = "10\u207b\u00b9\u2078 erg s\u207b\u00b9 cm\u207b\u00b2 \u00c5\u207b\u00b9"


def pairs(ws_list, fs_list):
    rows = []
    for ws, fs in zip(ws_list, fs_list):
        rows.extend({"wl": w, "flux": f} for w, f in zip(ws, fs))
    return pd.DataFrame(rows)


obs = pairs([bw1, bw2, bw3, bw4, bw5, bw6, bw7], [bf1, bf2, bf3, bf4, bf5, bf6, bf7])
sky = pairs([gw1, gw2, gw3, gw4, gw5, gw6, gw7], [gf1, gf2, gf3, gf4, gf5, gf6, gf7])
zero = pd.DataFrame({"flux": zero_level})

FONT = "DejaVu Sans"
W, H = 2324, 692

x_enc = alt.X(
    "wl:Q",
    scale=alt.Scale(domain=[4750, 9300], nice=False, zero=False),
    axis=alt.Axis(
        values=x_ticks, format="d", title=x_title, grid=False, domain=False,
        labelFont=FONT, labelFontSize=28.5, labelColor="black", labelPadding=12,
        labelFlush=False,
        tickSize=14.6, tickWidth=3.33, tickColor="black",
        titleFont=FONT, titleFontSize=33.3, titleFontWeight="normal", titleColor="black",
        titleBaseline="alphabetic", titleAlign="center", titleX=W / 2, titleY=86,
    ),
)
y_enc = alt.Y(
    "flux:Q",
    scale=alt.Scale(domain=[-1.306, 1.542], nice=False, zero=False),
    axis=alt.Axis(
        values=y_ticks, format=".1f", title=y_title, grid=False, domain=False,
        labelFont=FONT, labelFontSize=33.3, labelColor="black", labelPadding=17,
        labelOffset=3, labelFlush=False,
        tickSize=14.6, tickWidth=3.33, tickColor="black",
        titleFont=FONT, titleFontSize=49, titleFontWeight="normal", titleColor="black",
        titleAngle=270, titleBaseline="alphabetic", titleAlign="center",
        titleX=-151, titleY=H / 2,
    ),
)

sky_line = alt.Chart(sky).mark_line(
    color="#008000", strokeWidth=2.1, strokeJoin="round", clip=True
).encode(x=x_enc, y=y_enc)

zero_rule = alt.Chart(zero).mark_rule(color="#0000ff", strokeWidth=8).encode(
    y=alt.Y("flux:Q")
)

obs_line = alt.Chart(obs).mark_line(
    color="black", strokeWidth=6, strokeJoin="round", clip=True
).encode(x=alt.X("wl:Q"), y=alt.Y("flux:Q"))

chart = alt.layer(sky_line, zero_rule, obs_line).properties(
    width=W,
    height=H,
    title=alt.TitleParams(
        text=title_text, font=FONT, fontSize=50, fontWeight="normal", color="black",
        anchor="middle", frame="group", baseline="alphabetic", offset=21, dy=49,
    ),
    autosize=alt.AutoSizeParams(type="none"),
    padding={"left": 369, "top": 101, "right": 290, "bottom": 96},
).configure(
    font=FONT,
    background="white",
    view=alt.ViewConfig(stroke="black", strokeWidth=3.33),
)

chart.save("out.html", embed_options={"renderer": "svg", "actions": False})
